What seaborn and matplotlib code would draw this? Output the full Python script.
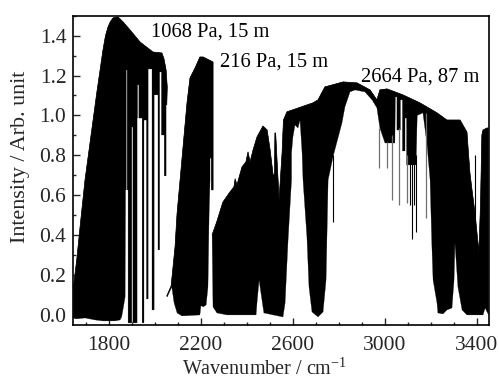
import matplotlib
matplotlib.use("Agg")
import matplotlib.pyplot as plt
import seaborn as sns
from matplotlib.ticker import MultipleLocator

## band outlines: upper edge left to right, lower edge left to right
BAND1_UP_X = [1647, 1662, 1676, 1698, 1749, 1776, 1787, 1798, 1808, 1820, 1841, 1863, 1893, 1937, 1993, 2032, 2041, 2050, 2055, 2053]
BAND1_UP_Y = [.135, .276, .436, .677, 1.113, 1.328, 1.40, 1.444, 1.47, 1.489, 1.494, 1.469, 1.429, 1.368, 1.318, 1.313, 1.283, 1.228, 1.143, 1.053]
BAND1_LO_X = [1647, 1659, 1698, 1741, 1776, 1828, 1850, 1857, 1864, 1872, 1874, 1877, 1877, 1881, 1881, 1885, 1885,
              1901, 1901, 1906, 1906, 1924, 1924, 1926, 1926, 1932, 1932, 1946, 1946, 1954, 1954, 1965, 1965, 1972, 1972,
              1989, 1989, 1998, 1998, 2015, 2015, 2022, 2022, 2030, 2030, 2042, 2042, 2050, 2050, 2053]
BAND1_LO_Y = [-.015, -.02, -.015, -.025, -.03, -.03, -.025, -.01, .035, .09, .627, .627, 1.228, 1.228, .627, .627, -.04,
              -.04, .942, .942, -.04, -.04, .987, .987, 1.153, 1.153, .987, .987, -.04, -.04, .977, .977, .08, .08, 1.233,
              1.233, .025, .025, 1.103, 1.103, .326, .326, 1.218, 1.218, .902, .902, .697, .697, 1.053, 1.053]

BAND2_UP_X = [2053, 2072, 2089, 2098, 2111, 2141, 2154, 2176, 2197, 2211, 2254, 2254, 2248, 2248, 2241]
BAND2_UP_Y = [.095, .145, .341, .511, .677, 1.063, 1.188, 1.238, 1.293, 1.293, 1.268, .627, .627, .787, .787]
BAND2_LO_X = [2055, 2075, 2085, 2098, 2119, 2197, 2201, 2206, 2211, 2224, 2232, 2237, 2241]
BAND2_LO_Y = [.09, .14, .06, .01, -.005, 0, .045, .045, .04, .05, .14, .511, .677]

BAND3_UP_X = [2250, 2270, 2297, 2328, 2345, 2350, 2358, 2380, 2397, 2406, 2415, 2428, 2445, 2471, 2489, 2502, 2515,
              2521, 2523, 2526, 2532, 2541, 2554, 2560, 2575, 2688, 2710, 2740, 2819, 2880, 2936, 2966, 2979, 3010,
              3079, 3153, 3227, 3270, 3327, 3357, 3370, 3379, 3392, 3409, 3416, 3422, 3427, 3444, 3451]
BAND3_UP_Y = [.401, .466, .566, .617, .642, .682, .652, .742, .767, .817, .767, .827, .892, .947, .927, .827, .702,
              .702, .912, .912, .777, .576, .812, .977, 1.018, 1.063, 1.078, 1.143, 1.168, 1.163, 1.128, 1.078, 1.128, 1.133,
              1.103, 1.063, 1.013, .977, .977, .917, .712, .627, .511, .316, .551, .902, .927, .937, .937]
BAND3_LO_X = [2250, 2254, 2271, 2315, 2441, 2445, 2454, 2475, 2558, 2567, 2580, 2595, 2595, 2601, 2610, 2623, 2632,
              2641, 2645, 2662, 2671, 2684, 2710, 2732, 2745, 2754, 2775, 2814, 2827, 2849, 2871, 2914, 2945, 2966,
              2979, 3001, 3044, 3046, 3053, 3053, 3068, 3068, 3077, 3077, 3088, 3088, 3095, 3095, 3136, 3141, 3166, 3184,
              3197, 3205, 3210, 3227, 3231, 3253, 3270, 3292, 3301, 3305, 3318, 3336, 3357, 3427, 3436, 3451]
BAND3_LO_Y = [.401, .04, .01, 0, 0, .06, .175, .01, -.01, .06, .376, .677, .812, .892, .952, .937, .977,
              .812, .677, .391, .14, .015, -.01, .015, .175, .677, .792, .962, 1.043, 1.118, 1.128, 1.118, 1.078, 1.038,
              .937, .862, .862, 1.093, 1.093, .927, .927, 1.078, 1.078, .822, .822, .987, .987, .752, .752, 1.0, 1.013, .852,
              .677, .341, .175, .06, .01, .005, .025, .035, .175, .361, .14, .025, 0, 0, .035, 0]

## thin absorption lines hanging under the third band
DARK_LINES = [2775, 3110, 3118, 3127, 3136, 3393]
DARK_TOP = [.80, .80, .80, .80, .80, .80]
DARK_BOTTOM = [.466, .551, .381, .551, .416, .45]
GREY_LINES = [2975, 3010, 3032, 3064, 3097, 3179]
GREY_TOP = [.937, .867, .90, .937, .80, 1.013]
GREY_BOTTOM = [.737, .737, .576, .551, .561, .486]

BANDS = [
    (BAND1_UP_X, BAND1_UP_Y, BAND1_LO_X, BAND1_LO_Y),
    (BAND2_UP_X, BAND2_UP_Y, BAND2_LO_X, BAND2_LO_Y),
    (BAND3_UP_X, BAND3_UP_Y, BAND3_LO_X, BAND3_LO_Y),
]

NOTE_TEXT = ["1068 Pa, 15 m", "216 Pa, 15 m", "2664 Pa, 87 m"]
NOTE_X = [1983, 2284, 2896]
NOTE_Y = [1.393, 1.245, 1.169]

X_TICKS = [1800, 2200, 2600, 3000, 3400]
Y_TICKS = [0.0, 0.2, 0.4, 0.6, 0.8, 1.0, 1.2, 1.4]

sns.set_style("ticks")
plt.rcParams["font.family"] = ["Liberation Serif", "DejaVu Serif"]
plt.rcParams["mathtext.default"] = "regular"

fig = plt.figure(figsize=(4.99, 3.80), dpi=100)
ax = fig.add_axes([73.3 / 499, (380 - 324.5) / 380, 415.4 / 499, 308.8 / 380])

for up_x, up_y, lo_x, lo_y in BANDS:
    ax.fill(up_x + lo_x[::-1], up_y + lo_y[::-1], color="black", lw=0.2)
    sns.lineplot(x=up_x, y=up_y, ax=ax, color="black", lw=0.5, sort=False, estimator=None)

ax.vlines(DARK_LINES, DARK_BOTTOM, DARK_TOP, color="black", lw=0.8)
ax.vlines(GREY_LINES, GREY_BOTTOM, GREY_TOP, color="#707070", lw=0.9)

for txt, tx, ty in zip(NOTE_TEXT, NOTE_X, NOTE_Y):
    ax.text(tx, ty, txt, fontsize=14.8, va="baseline", color="black")

ax.set_xlim(1647, 3451.6)
ax.set_ylim(-0.048, 1.5)
ax.set_xticks(X_TICKS)
ax.set_yticks(Y_TICKS)
ax.xaxis.set_minor_locator(MultipleLocator(100))
ax.yaxis.set_minor_locator(MultipleLocator(0.1))
ax.tick_params(which="major", direction="in", length=5, width=1, labelsize=15.5)
ax.tick_params(which="minor", direction="in", length=2.5, width=1)
ax.tick_params(axis="x", which="major", pad=8)
ax.tick_params(axis="y", which="major", pad=5)

ax.set_xlabel("Wavenumber / cm$^{-1}$", fontsize=14.5, va="center")
ax.set_ylabel("Intensity / Arb. unit", fontsize=15.8, va="center")
ax.xaxis.set_label_coords(0.461, -0.144)
ax.yaxis.set_label_coords(-0.128, 0.542)

for spine in ax.spines.values():
    spine.set_linewidth(1.2)
    spine.set_color("black")
    spine.set_visible(True)

fig.savefig("out.png", dpi=100)
